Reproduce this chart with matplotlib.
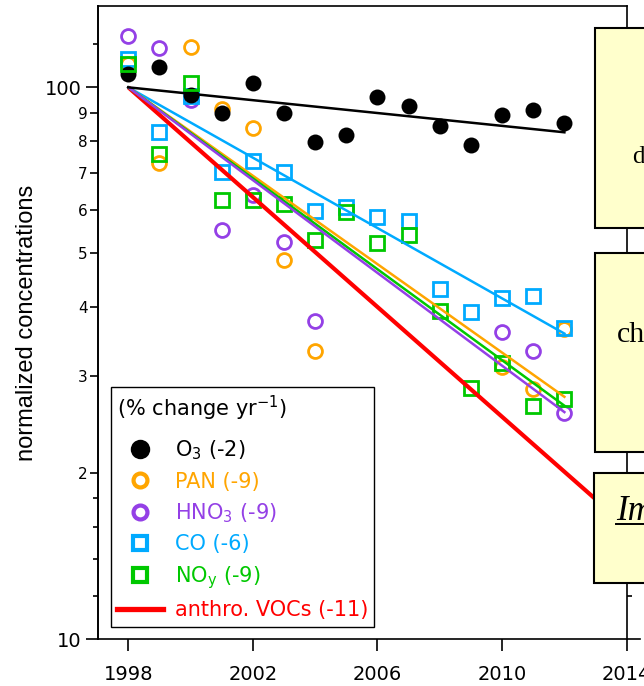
import matplotlib
matplotlib.use("Agg")
import matplotlib.pyplot as plt
from matplotlib.lines import Line2D
from matplotlib.patches import Rectangle
from matplotlib.ticker import FixedLocator, FixedFormatter, NullFormatter, NullLocator

# ---------------- data ----------------
years = [1998, 1999, 2000, 2001, 2002, 2003, 2004, 2005, 2006, 2007, 2008, 2009, 2010, 2011, 2012]
o3 = [105.7, 109.0, 96.8, 89.7, 101.9, 90.0, 79.7, 82.0, 96.2, 92.5, 85.1, 78.5, 89.1, 90.9, 86.1]
co = [112.4, 83.1, 96.6, 70.3, 73.6, 70.3, 59.8, 60.8, 58.3, 57.3, 43.2, 39.2, 41.5, 41.9, 36.6]
noy = [110.1, 75.7, 101.7, 62.5, 62.5, 61.5, 53.0, 59.4, 52.2, 54.0, 39.3, 28.5, 31.7, 26.5, 27.3]

pan_years = [1998, 1999, 2000, 2001, 2002, 2003, 2004, 2010, 2011, 2012]
pan = [110.0, 72.8, 118.2, 91.3, 84.3, 48.7, 33.3, 31.2, 28.4, 36.5]
hno3_years = [1998, 1999, 2000, 2001, 2002, 2003, 2004, 2010, 2011, 2012]
hno3 = [123.9, 117.7, 94.8, 55.1, 63.8, 52.5, 37.8, 36.1, 33.3, 25.7]

# trend lines (start / end values)
fit_years = [1998, 2012]
fit_o3 = [100, 82.9]
fit_pan = [100, 27.5]
fit_hno3 = [100, 25.8]
fit_co = [100, 35.8]
fit_noy = [100, 26.5]
voc_years = [1998, 2014]
voc = [100, 16.0]

labels = ["O$_3$ (-2)", "PAN (-9)", "HNO$_3$ (-9)", "CO (-6)", "NO$_\\mathrm{y}$ (-9)", "anthro. VOCs (-11)"]
legend_title = "(% change yr$^{-1}$)"
xticks = [1998, 2002, 2006, 2010, 2014]
ymajor = [10, 100]
ymajor_labels = ["10", "100"]
yminor = [20, 30, 40, 50, 60, 70, 80, 90]
yminor_labels = ["2", "3", "4", "5", "6", "7", "8", "9"]
ysmall = [12, 14, 16, 18, 120]
box_texts = ["d", "ch", "Im"]

# ---------------- style ----------------
c_o3 = "black"
c_pan = "#FFA500"
c_hno3 = "#9440E6"
c_co = "#00AAFF"
c_noy = "#00C800"
c_voc = "#FF0000"

plt.rcParams["font.family"] = ["DejaVu Sans"]
plt.rcParams["mathtext.fontset"] = "dejavusans"

W, H = 644, 686
fig = plt.figure(figsize=(W / 100, H / 100), dpi=100)

ax_l, ax_r, ax_t, ax_b = 98.3, 640.0, 6.0, 639.3
ax = fig.add_axes([ax_l / W, 1 - ax_b / H, (ax_r - ax_l) / W, (ax_b - ax_t) / H])

x0, x1 = 1997.037, 2014.427
ax.set_xlim(x0, x1)
ax.set_yscale("log")
ax.set_ylim(10, 140.4)

ms = 10.0
mew = 2.0
ax.plot(hno3_years, hno3, ls="none", marker="o", ms=ms, mfc="none", mec=c_hno3, mew=mew, zorder=3)
ax.plot(pan_years, pan, ls="none", marker="o", ms=ms, mfc="none", mec=c_pan, mew=mew, zorder=3)
ax.plot(years, co, ls="none", marker="s", ms=ms, mfc="none", mec=c_co, mew=mew, zorder=3)
ax.plot(years, o3, ls="none", marker="o", ms=11.5, mfc=c_o3, mec=c_o3, mew=0, zorder=3)
ax.plot(years, noy, ls="none", marker="s", ms=ms, mfc="none", mec=c_noy, mew=mew, zorder=3)

ax.plot(voc_years, voc, color=c_voc, lw=3.0, zorder=4, solid_capstyle="butt")
ax.plot(fit_years, fit_co, color=c_co, lw=1.8, zorder=4)
ax.plot(fit_years, fit_pan, color=c_pan, lw=1.8, zorder=4)
ax.plot(fit_years, fit_noy, color=c_noy, lw=1.8, zorder=4)
ax.plot(fit_years, fit_hno3, color=c_hno3, lw=1.8, zorder=4)
ax.plot(fit_years, fit_o3, color=c_o3, lw=1.8, zorder=4)

# axes / ticks
spw = 1.2
for s in ax.spines.values():
    s.set_linewidth(spw)
ax.spines["right"].set_visible(False)
ax.spines["top"].set_bounds(x0, 2014)

ax.set_xticks(xticks)
ax.set_xticklabels([str(v) for v in xticks])
ax.xaxis.set_minor_locator(NullLocator())
ax.tick_params(axis="x", which="major", direction="out", length=8.6, width=spw, labelsize=14, pad=10)

ax.yaxis.set_major_locator(FixedLocator(ymajor))
ax.yaxis.set_major_formatter(FixedFormatter(ymajor_labels))
ax.yaxis.set_minor_locator(FixedLocator(yminor))
ax.yaxis.set_minor_formatter(FixedFormatter(yminor_labels))
ax.tick_params(axis="y", which="major", direction="out", length=9, width=spw, labelsize=14, pad=3)
ax.tick_params(axis="y", which="minor", direction="out", length=5.8, width=spw, labelsize=11, pad=2)

sec = ax.secondary_yaxis("left")
sec.yaxis.set_major_locator(FixedLocator(ysmall))
sec.yaxis.set_major_formatter(NullFormatter())
sec.yaxis.set_minor_locator(NullLocator())
sec.tick_params(axis="y", which="major", direction="out", length=3.6, width=spw)
for s in sec.spines.values():
    s.set_linewidth(spw)

rpos = (2014 - x0) / (x1 - x0)
secr = ax.secondary_yaxis(rpos)
secr.yaxis.set_major_locator(FixedLocator(ysmall[:-1] + yminor + ysmall[-1:]))
secr.yaxis.set_major_formatter(NullFormatter())
secr.yaxis.set_minor_locator(NullLocator())
secr.tick_params(axis="y", which="major", direction="out", length=3.6, width=spw)
for s in secr.spines.values():
    s.set_linewidth(spw)

ax.set_ylabel("normalized concentrations", family="Liberation Sans", fontsize=17)
ax.yaxis.set_label_coords(-0.112, 0.5)

# legend
handles = [
    Line2D([], [], ls="none", marker="o", ms=14, mfc=c_o3, mec=c_o3, mew=0),
    Line2D([], [], ls="none", marker="o", ms=10, mfc="none", mec=c_pan, mew=3),
    Line2D([], [], ls="none", marker="o", ms=10, mfc="none", mec=c_hno3, mew=3),
    Line2D([], [], ls="none", marker="s", ms=9.5, mfc="none", mec=c_co, mew=3),
    Line2D([], [], ls="none", marker="s", ms=9.5, mfc="none", mec=c_noy, mew=3),
    Line2D([], [], color=c_voc, lw=3.8),
]
leg = ax.legend(handles, labels, title=legend_title, loc="lower left",
                bbox_to_anchor=(0.0234, 0.0199), borderaxespad=0, fontsize=15,
                title_fontsize=15, alignment="left", fancybox=False, framealpha=1,
                edgecolor="black", handlelength=2.2, handletextpad=0.55,
                labelspacing=0.46, borderpad=0.3)
leg._legend_box.sep = 11.4
leg.get_frame().set_linewidth(1.0)
for t, c in zip(leg.get_texts(), [c_o3, c_pan, c_hno3, c_co, c_noy, c_voc]):
    t.set_color(c)
leg.set_zorder(6)

# right-side boxes (cut off at the figure edge)
box_fill = "#FFFFCC"
boxes = [(595, 28.3, 228.3), (595, 252.7, 451.7), (594, 473.3, 583.3)]
for (bx, btop, bbot) in boxes:
    fig.add_artist(Rectangle((bx / W, 1 - bbot / H), (W + 60 - bx) / W, (bbot - btop) / H,
                             transform=fig.transFigure, facecolor=box_fill,
                             edgecolor="black", lw=1.5, zorder=5))

fig.text(631.7 / W, 1 - 163.3 / H, box_texts[0], family="Liberation Serif", fontsize=18,
         va="baseline", ha="left", zorder=6)
fig.text(616.7 / W, 1 - 341.7 / H, box_texts[1], family="Liberation Serif", fontsize=21.5,
         va="baseline", ha="left", zorder=6)
fig.text(616.0 / W, 1 - 520.0 / H, box_texts[2], family="Liberation Serif", fontsize=25,
         style="italic", va="baseline", ha="left", zorder=6)
fig.add_artist(Line2D([616.0 / W, 1.0], [1 - 523.8 / H, 1 - 523.8 / H], transform=fig.transFigure,
                      color="black", lw=1.4, zorder=6))

fig.savefig("out.png", dpi=100)
